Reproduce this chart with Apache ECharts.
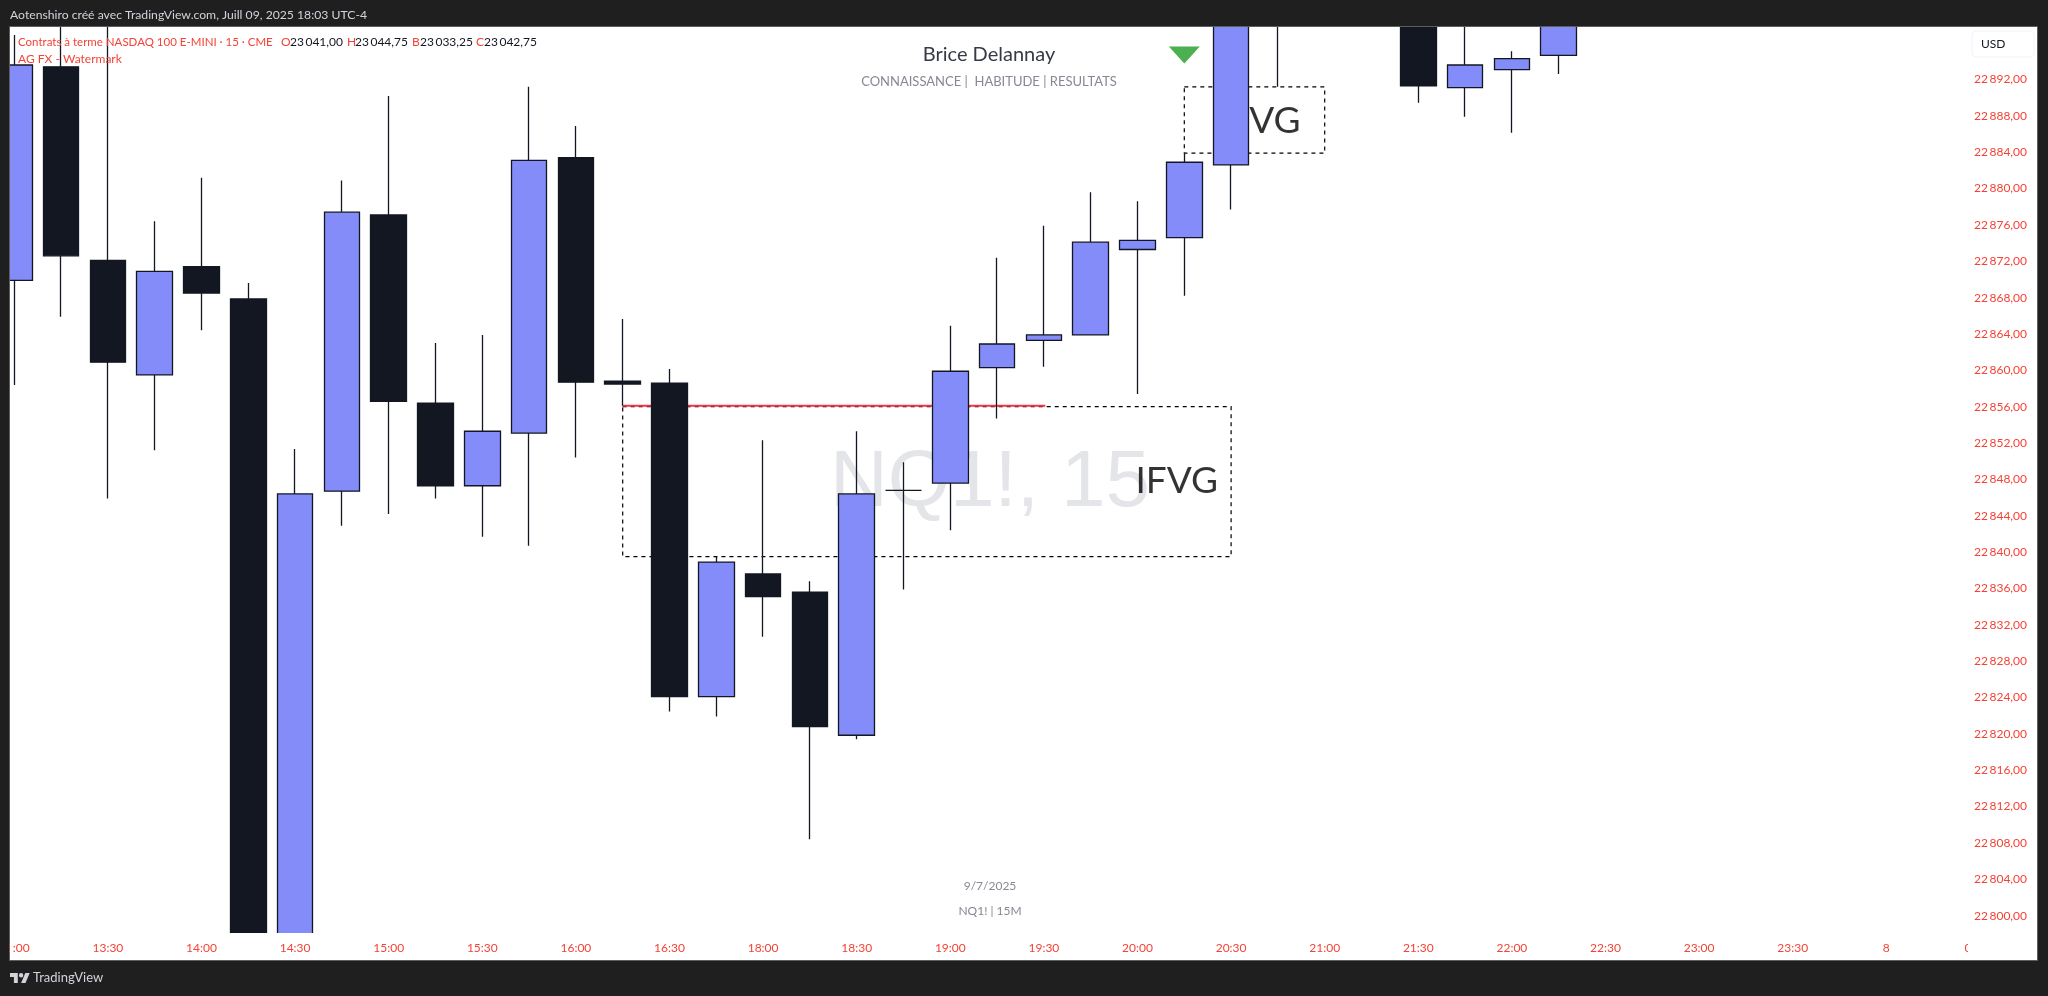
<!DOCTYPE html>
<html>
<head>
<meta charset="utf-8">
<title>NQ1! 15</title>
<script src="https://cdn.jsdelivr.net/npm/echarts@6/dist/echarts.min.js"></script>
<style>
  html, body { margin: 0; padding: 0; background: #1f1f1f; }
  #chart_block { width: 2048px; height: 996px; }
</style>
</head>
<body>
<div id="chart_block"></div>
<script>
// candle slots (15 min each), slots 28 and 29 sit above the visible pane
var slots  = [0, 1, 2, 3, 4, 5, 6, 7, 8, 9, 10, 11, 12, 13, 14, 15, 16, 17, 18, 19, 20, 21, 22, 23, 24, 25, 26, 27, 30, 31, 32, 33];
var opens  = [22869.9, 22893.4, 22872.1, 22859.5, 22871.4, 22867.85, 22792, 22846.7, 22877.1, 22856.4, 22847.3, 22853.1, 22883.4, 22858.8, 22858.6, 22824.1, 22837.6, 22835.6, 22819.85, 22846.8, 22847.6, 22860.3, 22863.3, 22863.9, 22873.3, 22874.6, 22882.6, 22900, 22905, 22891.1, 22893.1, 22894.65];
var closes = [22893.6, 22872.6, 22860.9, 22870.9, 22868.5, 22792, 22846.4, 22877.4, 22856.6, 22847.3, 22853.3, 22883.1, 22858.7, 22858.5, 22824.1, 22838.9, 22835.1, 22820.8, 22846.4, 22846.8, 22859.9, 22862.9, 22863.9, 22874.1, 22874.3, 22882.9, 22901, 22908, 22891.3, 22893.6, 22894.3, 22900];
var lows   = [22858.4, 22865.9, 22845.9, 22851.2, 22864.4, 22786, 22786, 22842.9, 22844.2, 22845.9, 22841.7, 22840.7, 22850.4, 22856.1, 22822.45, 22821.9, 22830.7, 22808.4, 22819.4, 22835.9, 22842.4, 22854.7, 22860.4, 22863.9, 22857.4, 22868.2, 22877.7, 22891.2, 22889.45, 22887.9, 22886.15, 22892.6];
var highs  = [22896.9, 22905, 22905, 22876.4, 22881.2, 22869.6, 22851.35, 22880.9, 22890.2, 22863, 22863.9, 22891.2, 22886.9, 22865.65, 22860.15, 22839.5, 22852.3, 22836.8, 22853.3, 22849.9, 22864.9, 22872.4, 22875.9, 22879.6, 22878.6, 22883.9, 22905, 22910, 22905, 22900, 22895.1, 22905];

// time axis labels, one every two candles
var timeSlots  = [0, 2, 4, 6, 8, 10, 12, 14, 16, 18, 20, 22, 24, 26, 28, 30, 32, 34, 36, 38, 40, 42];
var timeLabels = ['13:00', '13:30', '14:00', '14:30', '15:00', '15:30', '16:00', '16:30', '18:00', '18:30', '19:00', '19:30', '20:00', '20:30', '21:00', '21:30', '22:00', '22:30', '23:00', '23:30', '8', '00:30'];

var priceTicks = [22800, 22804, 22808, 22812, 22816, 22820, 22824, 22828, 22832, 22836, 22840, 22844, 22848, 22852, 22856, 22860, 22864, 22868, 22872, 22876, 22880, 22884, 22888, 22892];

// zones drawn on the chart: [first slot, last slot, top price, bottom price]
var lowerZone = [13, 26, 22856, 22839.5];
var upperZone = [25, 28, 22891.2, 22883.9];
var redLine = [[13, 22856.1], [22.03, 22856.1]];
var zoneLabels = [[24.84, 22847.86], [26.6, 22887.46]];
var arrowMark = [[25, 22894.7]];

var upColor = '#848cf9';
var downColor = '#131722';
var axisRed = '#f44336';
var greyText = '#868993';
var barColor = '#1f1f1f';

var candles = slots.map(function (s, i) {
  return [s, opens[i], closes[i], lows[i], highs[i]];
});

function zone(z) {
  return [{ xAxis: z[0], yAxis: z[2] }, { xAxis: z[1], yAxis: z[3] }];
}

function price_label(v) {
  var s = String(v);
  return s.slice(0, 2) + '\u2009' + s.slice(2) + ',00';
}

function txt(text, x, y, fill, size, align, family) {
  return {
    type: 'text', z: 100, silent: true, x: x, y: y,
    style: {
      text: text, fill: fill, fontSize: size,
      fontFamily: family || 'Lato',
      align: align || 'left', verticalAlign: 'middle'
    }
  };
}

// candlestick on a value axis is not cut at the pane edge, these cover what sticks out
function cover(x, y, w, h, fill) {
  return { type: 'rect', z: 5, silent: true, shape: { x: x, y: y, width: w, height: h }, style: { fill: fill } };
}

var chartDom = document.getElementById('chart_block');
var myChart = echarts.init(chartDom);

var options = {
  animation: false,
  backgroundColor: barColor,
  // outerBoundsMode off: the cut 13:00 label must not push the grid to the right
  grid: { left: 10, right: 11, top: 27, height: 906, containLabel: false, outerBoundsMode: 'none' },
  xAxis: {
    type: 'value',
    z: 10,
    min: -0.092,
    max: 43.22,
    axisLine: { show: false },
    axisTick: { show: false },
    splitLine: { show: false },
    axisLabel: {
      customValues: timeSlots,
      margin: 9,
      color: axisRed,
      fontSize: 12,
      fontFamily: 'Lato',
      formatter: function (v) { return timeLabels[timeSlots.indexOf(v)]; }
    }
  },
  yAxis: {
    type: 'value',
    position: 'right',
    min: 22798.09,
    max: 22897.78,
    axisLine: { show: false },
    axisTick: { show: false },
    splitLine: { show: false },
    axisLabel: {
      customValues: priceTicks,
      inside: true,
      margin: 10,
      color: axisRed,
      fontSize: 12,
      fontFamily: 'Lato',
      formatter: price_label
    }
  },
  graphic: [
    // white pane
    { type: 'rect', z: -10, silent: true, shape: { x: 9.5, y: 26.5, width: 2028, height: 934 }, style: { fill: '#ffffff' } },
    // symbol watermark, behind everything drawn in the pane
    { type: 'text', z: 0, silent: true, x: 990, y: 484,
      style: { text: 'NQ1!, 15', fill: '#e3e5e8', fontSize: 80, fontFamily: 'Liberation Sans', align: 'center', verticalAlign: 'middle' } },
    cover(0, 0, 2048, 26.5, barColor),
    cover(0, 0, 9.5, 996, barColor),
    cover(9.5, 933, 2028, 27.5, '#ffffff'),
    cover(0, 960.5, 2048, 35.5, barColor),
    // thin border of the pane
    { type: 'rect', z: 6, silent: true, shape: { x: 9.5, y: 26.5, width: 2028, height: 934 },
      style: { fill: 'none', stroke: '#5d5d5d', lineWidth: 1 } },
    // time labels get cut at both ends of the pane
    { type: 'rect', z: 90, silent: true, shape: { x: 0, y: 936, width: 9, height: 24 }, style: { fill: barColor } },
    { type: 'rect', z: 90, silent: true, shape: { x: 10, y: 936, width: 2, height: 22 }, style: { fill: '#ffffff' } },
    { type: 'rect', z: 90, silent: true, shape: { x: 1968, y: 936, width: 68, height: 22 }, style: { fill: '#ffffff' } },
    // USD box
    { type: 'rect', z: 95, silent: true, shape: { x: 1972, y: 31, width: 62, height: 26, r: 4 },
      style: { fill: '#ffffff', stroke: '#f0f3fa', lineWidth: 1 } },
    txt('USD', 1981, 44, '#131722', 12),
    // header bar
    txt('Aotenshiro créé avec TradingView.com, Juill 09, 2025 18:03 UTC-4', 10, 15, '#d1d4dc', 12.2),
    // legend
    txt('Contrats à terme NASDAQ 100 E-MINI · 15 · CME', 18, 42, axisRed, 11.5),
    txt('O', 281, 42, axisRed, 12), txt('23\u2009041,00', 290, 42, '#131722', 12),
    txt('H', 347, 42, axisRed, 12), txt('23\u2009044,75', 355, 42, '#131722', 12),
    txt('B', 412, 42, axisRed, 12), txt('23\u2009033,25', 420, 42, '#131722', 12),
    txt('C', 476, 42, axisRed, 12), txt('23\u2009042,75', 484, 42, '#131722', 12),
    txt('AG FX - Watermark', 18, 59, axisRed, 12),
    // author block
    txt('Brice Delannay', 989, 55, '#363a45', 20, 'center'),
    txt('CONNAISSANCE |  HABITUDE | RESULTATS', 989, 82, greyText, 13, 'center'),
    txt('9/7/2025', 990, 886, greyText, 12, 'center'),
    txt('NQ1! | 15M', 990, 911, greyText, 12, 'center'),
    // footer logo
    { type: 'polygon', z: 100, silent: true, shape: { points: [[17.8, 983], [13.9, 983], [13.9, 976.9], [10, 976.9], [10, 973], [17.8, 973]] }, style: { fill: '#d1d4dc' } },
    { type: 'polygon', z: 100, silent: true, shape: { points: [[25.5, 983], [21.1, 983], [25.3, 973], [29.7, 973]] }, style: { fill: '#d1d4dc' } },
    { type: 'circle', z: 100, silent: true, shape: { cx: 21.1, cy: 975.2, r: 2.2 }, style: { fill: '#d1d4dc' } },
    txt('TradingView', 33, 978, '#d1d4dc', 13)
  ],
  series: [
    {
      name: 'NQ1!',
      type: 'candlestick',
      z: 2,
      barWidth: 36,
      data: candles,
      itemStyle: {
        color: upColor,
        color0: downColor,
        borderColor: downColor,
        borderColor0: downColor,
        borderWidth: 1.3
      },
      markArea: {
        silent: true,
        z: 1,
        itemStyle: { color: 'rgba(0,0,0,0)', borderColor: '#000000', borderWidth: 1.2, borderType: [4, 4] },
        label: { show: false },
        data: [zone(lowerZone), zone(upperZone)]
      }
    },
    {
      name: 'IFVG line',
      type: 'line',
      z: 1,
      silent: true,
      symbol: 'none',
      data: redLine,
      lineStyle: { color: '#f23645', width: 2 }
    },
    {
      name: 'IFVG',
      type: 'scatter',
      z: 1,
      silent: true,
      symbolSize: 1,
      itemStyle: { color: 'rgba(0,0,0,0)' },
      label: {
        show: true, position: 'inside', formatter: 'IFVG',
        color: '#000000', fontSize: 37, fontFamily: 'Lato'
      },
      data: zoneLabels
    },
    {
      name: 'Arrow',
      type: 'scatter',
      z: 3,
      silent: true,
      symbol: 'triangle',
      symbolRotate: 180,
      symbolSize: [31, 17],
      itemStyle: { color: '#4caf50', opacity: 1 },
      data: arrowMark
    }
  ]
};

myChart.setOption(options);
</script>
</body>
</html>
